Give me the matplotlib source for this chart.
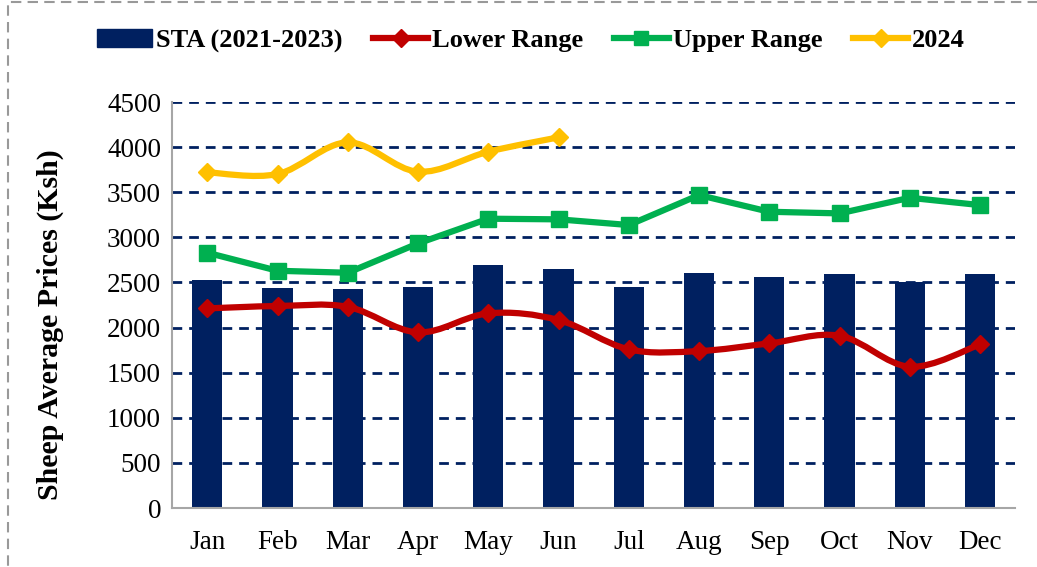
import numpy as np
import matplotlib
matplotlib.use("Agg")
import matplotlib.pyplot as plt
from matplotlib.path import Path
from matplotlib.patches import PathPatch, Rectangle
from matplotlib.lines import Line2D

plt.rcParams["font.family"] = ["Liberation Serif", "DejaVu Serif"]

months = ["Jan", "Feb", "Mar", "Apr", "May", "Jun",
          "Jul", "Aug", "Sep", "Oct", "Nov", "Dec"]
sta = [2527, 2438, 2427, 2449, 2693, 2649, 2449, 2605, 2560, 2594, 2505, 2592]
lower = [2213, 2239, 2230, 1947, 2158, 2084, 1759, 1740, 1825, 1910, 1566, 1814]
upper = [2830, 2630, 2608, 2933, 3207, 3200, 3137, 3469, 3284, 3266, 3439, 3358]
y2024 = [3721, 3702, 4053, 3728, 3950, 4109]

navy = "#002060"
red = "#C00000"
green = "#00B050"
gold = "#FFC000"


def smooth_path(x, y):
    # Excel style smoothed line: cubic bezier through the points
    x = np.asarray(x, float)
    y = np.asarray(y, float)
    verts = [(x[0], y[0])]
    codes = [Path.MOVETO]
    t = 1 / 6
    for i in range(len(x) - 1):
        x0, y0 = (x[i - 1], y[i - 1]) if i > 0 else (x[i], y[i])
        x3, y3 = (x[i + 2], y[i + 2]) if i + 2 < len(x) else (x[i + 1], y[i + 1])
        c1 = (x[i] + (x[i + 1] - x0) * t, y[i] + (y[i + 1] - y0) * t)
        c2 = (x[i + 1] - (x3 - x[i]) * t, y[i + 1] - (y3 - y[i]) * t)
        verts += [c1, c2, (x[i + 1], y[i + 1])]
        codes += [Path.CURVE4] * 3
    return Path(verts, codes)


fig = plt.figure(figsize=(10.37, 5.67), dpi=100)
ax = fig.add_axes([0.166, 0.104, 0.813, 0.716])

x = np.arange(len(months))
ax.bar(x, sta, width=0.43, color=navy, zorder=2)

ax.add_patch(PathPatch(smooth_path(x, lower), fill=False, ec=red, lw=4.5, zorder=3, capstyle="round"))
ax.plot(x, lower, ls="none", marker="D", ms=9, color=red, zorder=4)

ax.plot(x, upper, color=green, lw=4.5, marker="s", ms=11, zorder=4)

x24 = np.arange(len(y2024))
ax.add_patch(PathPatch(smooth_path(x24, y2024), fill=False, ec=gold, lw=4.5, zorder=3, capstyle="round"))
ax.plot(x24, y2024, ls="none", marker="D", ms=9, color=gold, zorder=4)

ax.set_xlim(-0.5, 11.5)
ax.set_ylim(0, 4500)
ax.set_yticks(np.arange(0, 4501, 500))
ax.set_xticks(x)
ax.set_xticklabels(months)
ax.tick_params(axis="both", length=0, labelsize=19.5, pad=8)
ax.tick_params(axis="x", pad=16)
ax.yaxis.grid(True, ls=(0, (3.5, 2.5)), color=navy, lw=2)
ax.set_axisbelow(True)
for s in ["top", "right"]:
    ax.spines[s].set_visible(False)
for s in ["left", "bottom"]:
    ax.spines[s].set_color("#A6A6A6")
    ax.spines[s].set_linewidth(1.5)
ax.set_ylabel("Sheep Average Prices (Ksh)", fontsize=21.5, fontweight="bold")
ax.yaxis.set_label_coords(-0.128, 0.453)

handles = [
    Rectangle((0, 0), 1, 1, color=navy),
    Line2D([], [], color=red, lw=4.5, marker="D", ms=9),
    Line2D([], [], color=green, lw=4.5, marker="s", ms=10),
    Line2D([], [], color=gold, lw=4.5, marker="D", ms=9),
]
fig.legend(handles, ["STA (2021-2023)", "Lower Range", "Upper Range", "2024"],
           loc="center", bbox_to_anchor=(0.512, 0.928), ncol=4, frameon=False,
           prop={"size": 19, "weight": "bold"}, handlelength=2.1, handletextpad=0.15,
           columnspacing=1.15)

fig.patches.append(Rectangle((0.008, -0.05), 1.2, 1.047, transform=fig.transFigure,
                             fill=False, ec="#999999", lw=1.5, ls=(0, (5, 3))))

fig.savefig("out.png", dpi=100)
